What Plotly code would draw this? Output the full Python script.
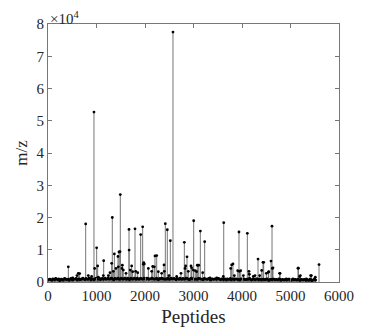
import plotly.graph_objects as go

# Major peaks (peptide index, m/z)
peak_x = [419, 777, 948, 962, 1003, 1024, 1148, 1313, 1326, 1368, 1443, 1464, 1485, 1491, 1533,
          1670, 1672, 1725, 1794, 1911, 1952, 1973, 1986, 2159, 2206, 2241, 2392, 2419, 2460, 2522,
          2577, 2811, 2838, 2866, 2948, 3004, 3037, 3079, 3107, 3141, 3189, 3230, 3623, 3787, 3814,
          3911, 3938, 3973, 4110, 4151, 4268, 4330, 4406, 4447, 4543, 4598, 4619, 4639, 4784,
          5162, 5203, 5430, 5512, 5588]
peak_y = [4700, 18000, 52700, 4200, 10600, 5000, 6600, 5800, 20000, 8700, 7900, 9300, 9400, 27100, 5200,
          16300, 9900, 5000, 16500, 14700, 17100, 6000, 5600, 4800, 8100, 8200, 5300, 18100, 16200, 12800,
          77500, 12300, 5000, 7800, 5000, 19000, 3500, 5200, 5200, 15800, 2900, 12500, 18400, 5300, 5600,
          3500, 15500, 3500, 15100, 2400, 2000, 7100, 3600, 6100, 3000, 6500, 17300, 4400, 2700,
          4300, 2000, 2000, 1500, 5400]

# Medium-height points
mid_x = [130, 295, 509, 598, 625, 653, 701, 831, 900, 1038, 1141, 1244, 1278, 1347, 1402, 1450,
         1526, 1553, 1608, 1697, 1745, 1808, 1849, 1966, 2069, 2138, 2192, 2275, 2344, 2399, 2495,
         2653, 2742, 2825, 2893, 2962, 2996, 3065, 3340, 3478, 3615, 3767, 3842, 3945, 4028, 4144,
         4233, 4364, 4433, 4502, 4550, 4626, 4777, 4914, 5052, 5155, 5189, 5326, 5416, 5498]
mid_y = [900, 700, 1300, 2000, 2700, 2600, 900, 2000, 1700, 1500, 2000, 2000, 2900, 3300, 4200, 4700,
         4200, 3700, 2700, 3700, 3200, 3300, 2900, 5500, 4200, 3300, 4700, 3200, 2700, 3300, 2000,
         1700, 2700, 4200, 3300, 4400, 3700, 3200, 1300, 1300, 1700, 4200, 2000, 3300, 2000, 3300,
         1700, 2000, 6100, 2700, 3200, 4200, 2700, 1000, 1000, 4300, 1700, 1000, 2000, 1000]

# Dense low baseline (two interleaved rows, every 40 peptides)
base_step = 40
base_y_a = [600, 900, 500, 800, 1100, 700, 400, 900, 600, 1000, 800, 500, 1100, 700, 900, 600,
            1000, 800, 1200, 700, 900, 1100, 600, 1000, 800, 1200, 900, 700, 1100, 1000, 800, 1200,
            900, 1100, 700, 1000, 1200, 800, 1100, 900, 1000, 1200, 700, 1100, 900, 1000, 1200, 800,
            1100, 900, 1000, 1200, 800, 1000, 1100, 900, 1200, 700, 1000, 1100, 900, 800, 1200, 1000,
            900, 1100, 700, 1000, 1200, 800, 900, 1100, 1000, 700, 1200, 900, 1000, 800, 1100, 900,
            700, 1000, 800, 1100, 600, 900, 1000, 800, 1100, 700, 900, 1000, 600, 800, 1100, 900,
            700, 1000, 800, 600, 900, 1000, 700, 800, 1100, 600, 900, 700, 1000, 800, 600, 900,
            700, 1000, 500, 800, 900, 600, 700, 1000, 500, 800, 700, 600, 900, 500, 800, 700,
            600, 900, 500, 700, 800, 500, 600, 900, 400, 700, 600]
base_y_b = [800, 700, 1000, 600, 900, 1000, 800, 600, 1100, 700, 900, 1000, 600, 900, 1100, 800,
            700, 1000, 900, 1100, 800, 1200, 900, 700, 1100, 900, 1200, 1000, 800, 1200, 1000, 900,
            1200, 800, 1100, 900, 1000, 1100, 900, 1200, 800, 1000, 1100, 900, 1200, 800, 1000, 1100,
            900, 1200, 800, 1100, 1000, 1200, 900, 1000, 800, 1100, 1200, 900, 1000, 1100, 800, 1200,
            1000, 900, 1100, 800, 1000, 1100, 900, 1200, 800, 1100, 1000, 800, 900, 1100, 1000, 800,
            1100, 900, 1000, 700, 1000, 800, 900, 1100, 800, 1000, 700, 900, 1000, 800, 700, 1000,
            900, 800, 700, 1000, 800, 700, 900, 1000, 700, 900, 800, 1000, 700, 900, 800, 700,
            900, 600, 800, 700, 900, 800, 600, 900, 700, 600, 800, 700, 900, 600, 700, 800,
            700, 600, 800, 600, 700, 800, 500, 700, 600, 800]
base_x_a = [i * base_step for i in range(len(base_y_a))]
base_x_b = [20 + i * base_step for i in range(len(base_y_b))]

xs = base_x_a + base_x_b + mid_x + peak_x
ys = base_y_a + base_y_b + mid_y + peak_y

x_ticks = [0, 1000, 2000, 3000, 4000, 5000, 6000]
y_ticks = [0, 10000, 20000, 30000, 40000, 50000, 60000, 70000, 80000]
y_tick_text = ["0", "1", "2", "3", "4", "5", "6", "7", "8"]

fig = go.Figure()
fig.add_trace(go.Scatter(
    x=xs, y=ys, mode="markers",
    marker=dict(size=2.8, color="black", symbol="circle"),
    error_y=dict(type="data", symmetric=False, array=[0] * len(ys), arrayminus=ys,
                 width=0, thickness=0.9, color="#666666"),
    showlegend=False, hoverinfo="x+y",
))

axis_common = dict(showgrid=False, zeroline=False, showline=True, linecolor="#777777",
                   linewidth=1, mirror="ticks", ticks="inside", ticklen=4, automargin=False,
                   tickcolor="#777777", tickfont=dict(family="Liberation Serif", size=15, color="#262626"))

# page body adds an 8px offset; figure is sized so the plot box lands where the reference has it
fig.update_layout(
    width=367, height=319,
    margin=dict(l=40, r=36, t=16, b=45),
    paper_bgcolor="white", plot_bgcolor="white",
    font=dict(family="Liberation Serif", color="#262626"),
    xaxis=dict(range=[0, 6000], tickvals=x_ticks, title=dict(text="Peptides", font=dict(size=19), standoff=6),
               **axis_common),
    yaxis=dict(range=[0, 80000], tickvals=y_ticks, ticktext=y_tick_text,
               title=dict(text="m/z", font=dict(size=17), standoff=4), **axis_common),
    annotations=[dict(text="×10<sup>4</sup>", xref="paper", yref="paper", x=0.0, y=1.0,
                      xanchor="left", yanchor="bottom", yshift=-5, showarrow=False,
                      font=dict(family="Liberation Serif", size=15, color="#262626"))],
)

fig.write_html("out.html")
